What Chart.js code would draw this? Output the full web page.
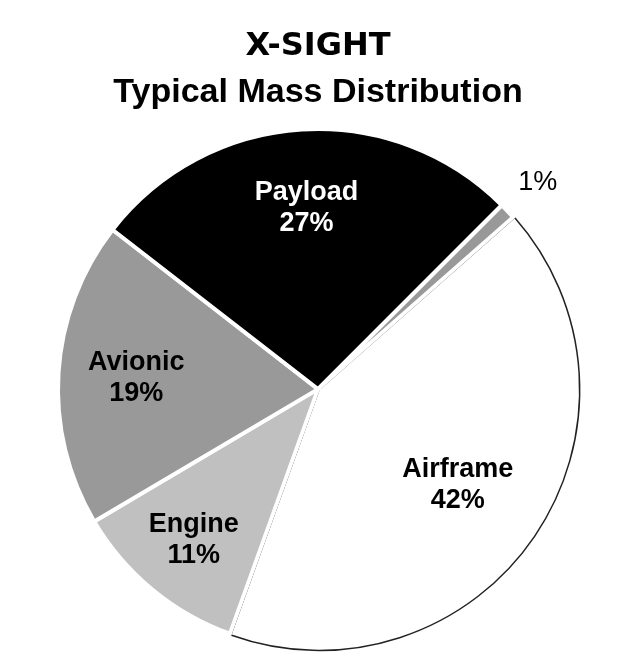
<!DOCTYPE html>
<html>
<head>
<meta charset="utf-8">
<script src="https://cdn.jsdelivr.net/npm/chart.js@4.4.1/dist/chart.umd.min.js"></script>
<style>
  html, body { margin: 0; padding: 0; background: #fff; }
  #wrap { width: 631px; height: 667px; }
</style>
</head>
<body>
<div id="wrap"><canvas id="myChart"></canvas></div>
<script>
// values, clockwise from the Airframe slice
var parts = ['Airframe', 'Engine', 'Avionic', 'Payload', ''];
var shares = [42, 11, 19, 27, 1];

var fills = ['#ffffff', '#c0c0c0', '#999999', '#000000', '#999999'];
var edges = ['#222222', '#ffffff', '#ffffff', '#ffffff', '#ffffff'];
var edgeWidths = [1.5, 4, 4, 4, 4];
var textColors = ['#000', '#000', '#000', '#fff', '#000'];
var labelDist = [0.65, 0.75, 0.70, 0.70, 1.16];

var sliceLabels = {
  id: 'sliceLabels',
  afterDatasetsDraw: function(chart) {
    var ctx = chart.ctx;
    var meta = chart.getDatasetMeta(0);
    meta.data.forEach(function(arc, i) {
      var mid = (arc.startAngle + arc.endAngle) / 2;
      var r = arc.outerRadius * labelDist[i];
      var x = arc.x + Math.cos(mid) * r;
      var y = arc.y + Math.sin(mid) * r;
      ctx.save();
      ctx.fillStyle = textColors[i];
      ctx.textAlign = 'center';
      ctx.textBaseline = 'middle';
      if (parts[i]) {
        ctx.font = 'bold 27px "Liberation Sans", Arial, sans-serif';
        ctx.fillText(parts[i], x, y - 15);
        ctx.fillText(shares[i] + '%', x, y + 16);
      } else {
        ctx.font = '27px "Liberation Sans", Arial, sans-serif';
        ctx.fillText(shares[i] + '%', x, y);
      }
      ctx.restore();
    });
  }
};

var ctx = document.getElementById('myChart');
var myChart = new Chart(ctx, {
  type: 'pie',
  data: {
    labels: parts,
    datasets: [{
      data: shares,
      backgroundColor: fills,
      borderColor: edges,
      borderWidth: edgeWidths,
      offset: [5, 0, 0, 0, 0],
      borderJoinStyle: 'miter'
    }]
  },
  options: {
    responsive: true,
    maintainAspectRatio: false,
    animation: false,
    rotation: 48.6,
    radius: 260,
    layout: { padding: { left: 5, right: 0, top: 0, bottom: 2 } },
    plugins: {
      legend: { display: false },
      tooltip: { enabled: false },
      title: {
        display: true,
        text: 'X-SIGHT',
        color: '#000',
        font: { family: '"DejaVu Sans", sans-serif', size: 32, weight: 'bold' },
        padding: { top: 27, bottom: 7 }
      },
      subtitle: {
        display: true,
        text: 'Typical Mass Distribution',
        color: '#000',
        font: { family: '"Liberation Sans", Arial, sans-serif', size: 34, weight: 'bold' },
        padding: { top: 0, bottom: 0 }
      }
    }
  },
  plugins: [sliceLabels]
});
</script>
</body>
</html>
